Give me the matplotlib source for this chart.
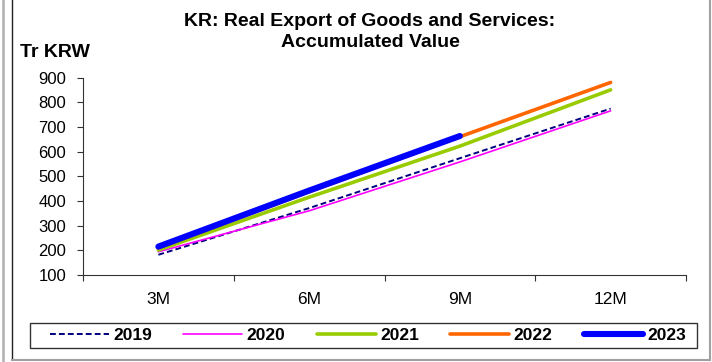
import numpy as np
import matplotlib
matplotlib.use("Agg")
import matplotlib.pyplot as plt
from matplotlib.patches import Rectangle
from matplotlib.lines import Line2D

categories = ["3M", "6M", "9M", "12M"]
s2019 = [182, 371, 573, 774]
s2020 = [194, 360, 558, 765]
s2021 = [201, 415, 622, 850]
s2022 = [210, 437, 660, 880]
s2023 = [215, 442, 663, np.nan]
yticks = [100, 200, 300, 400, 500, 600, 700, 800, 900]

plt.rcParams['font.family'] = ['Liberation Sans', 'DejaVu Sans']

W, H = 712, 362
fig = plt.figure(figsize=(W / 100, H / 100), dpi=100)

# outer frames
fig.add_artist(Line2D([3 / W, 3 / W], [0, 1], color="#b0b0b0", lw=1.8, transform=fig.transFigure))
fig.add_artist(Line2D([11.5 / W, 11.5 / W], [1 - 359 / H, 1], color="#222222", lw=1.0, transform=fig.transFigure))
fig.add_artist(Line2D([11.5 / W, 710 / W], [1 - 359.5 / H, 1 - 359.5 / H], color="#a0a0a0", lw=1.5, transform=fig.transFigure))
fig.add_artist(Line2D([710 / W, 710 / W], [1 - 359.5 / H, 1], color="#a0a0a0", lw=1.5, transform=fig.transFigure))

ax = fig.add_axes([83 / W, 1 - 275 / H, (686 - 83) / W, (275 - 77.5) / H])
x = np.arange(len(categories))

ax.plot(x, s2019, color="#000080", lw=1.4, ls=(0, (3, 1.6)), label="2019")
ax.plot(x, s2020, color="#FF00FF", lw=1.2, label="2020", solid_capstyle="round")
ax.plot(x, s2021, color="#99CC00", lw=2.6, label="2021", solid_capstyle="round")
ax.plot(x, s2022, color="#FF6600", lw=2.6, label="2022", solid_capstyle="round")
ax.plot(x, s2023, color="#0000FF", lw=4.4, label="2023", solid_capstyle="round")

ax.set_xlim(-0.5, len(categories) - 0.5)
ax.set_ylim(100, 900)
ax.set_yticks(yticks)
ax.set_yticklabels([str(v) for v in yticks])
ax.set_xticks(x)
ax.set_xticklabels(categories)
ax.set_xticks(np.arange(-0.5, len(categories), 1.0), minor=True)
ax.tick_params(axis="x", which="major", length=0, pad=12, labelsize=12.5, colors="black")
ax.tick_params(axis="x", which="minor", length=4, width=0.8, color="#333333", direction="out")
ax.tick_params(axis="y", length=4, width=0.8, color="#333333", pad=8, labelsize=12)
for s in ["top", "right"]:
    ax.spines[s].set_visible(False)
for s in ["left", "bottom"]:
    ax.spines[s].set_color("#333333")
    ax.spines[s].set_linewidth(0.8)

fig.text(370 / W, 1 - 26 / H, "KR: Real Export of Goods and Services:", ha="center", va="baseline",
         fontsize=14, fontweight="bold")
fig.text(370 / W, 1 - 47 / H, "Accumulated Value", ha="center", va="baseline",
         fontsize=14, fontweight="bold")
fig.text(20 / W, 1 - 57 / H, "Tr KRW", ha="left", va="baseline", fontsize=14, fontweight="bold")

leg = fig.legend(loc="center", bbox_to_anchor=(368 / W, 1 - 335.5 / H), ncol=5,
                 prop={"weight": "bold", "size": 12.5}, handlelength=3.4, columnspacing=1.8,
                 handletextpad=0.25, frameon=False, borderpad=0.2)
fig.add_artist(Rectangle((30 / W, 1 - 348 / H), (697 - 30) / W, 25 / H, transform=fig.transFigure,
                         facecolor="none", edgecolor="#333333", lw=1.0))

fig.savefig("out.png", dpi=100)
